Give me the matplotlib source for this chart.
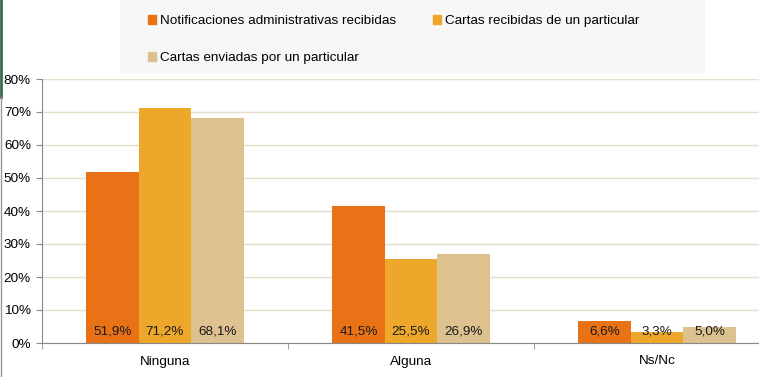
import matplotlib.pyplot as plt
from matplotlib.lines import Line2D
from matplotlib.patches import Rectangle
import numpy as np

plt.rcParams['font.family'] = ['Liberation Sans', 'DejaVu Sans']

# Data
categories = ["Ninguna", "Alguna", "Ns/Nc"]
series_names = ["Notificaciones administrativas recibidas",
                "Cartas recibidas de un particular",
                "Cartas enviadas por un particular"]
notificaciones = [51.9, 41.5, 6.6]
cartas_recibidas = [71.2, 25.5, 3.3]
cartas_enviadas = [68.1, 26.9, 5.0]
yticks = [0, 10, 20, 30, 40, 50, 60, 70, 80]

colors = ["#E97217", "#EDA72A", "#DDC18F"]
series = [notificaciones, cartas_recibidas, cartas_enviadas]

W, H = 759, 377
fig = plt.figure(figsize=(W / 100, H / 100), dpi=100)

# axes extend past the right edge like in the original crop
ax = fig.add_axes([42 / W, 34 / H, 738 / W, 264 / H])

x = np.arange(len(categories))
bw = 0.213
for i, (vals, col) in enumerate(zip(series, colors)):
    pos = x + (i - 1) * bw
    ax.bar(pos, vals, width=bw, color=col, zorder=2, label=series_names[i])
    for xp, v in zip(pos, vals):
        ax.text(xp, 1.6, f"{v:.1f}%".replace(".", ","), ha="center", va="bottom",
                fontsize=9.7, color="#1a1a1a", zorder=3)

ax.set_xlim(-0.5, 2.5)
ax.set_ylim(0, 80)
ax.set_yticks(yticks)
ax.set_yticklabels([f"{t}%" for t in yticks], fontsize=9.7)
ax.yaxis.grid(True, color="#E3DFCC", linewidth=1, zorder=0)
ax.set_axisbelow(True)

# category ticks sit between groups
ax.set_xticks(x)
ax.set_xticklabels(categories, fontsize=9.7)
ax.tick_params(axis="x", length=0, pad=9)
ax.set_xticks([-0.5, 0.5, 1.5], minor=True)
ax.tick_params(axis="x", which="minor", length=4, color="#888888", direction="out")
ax.tick_params(axis="y", length=4, color="#888888", pad=4)

for s in ["top", "right"]:
    ax.spines[s].set_visible(False)
ax.spines["left"].set_color("#888888")
ax.spines["bottom"].set_color("#888888")

# legend panel
fig.patches.append(Rectangle((120 / W, 1 - 73 / H), 585 / W, 73 / H,
                             transform=fig.transFigure, facecolor="#F7F7F7",
                             edgecolor="none", zorder=0))
handles = [Rectangle((0, 0), 1, 1, color=c) for c in colors]
order = [0, 2, 1]
fig.legend([handles[i] for i in order], [series_names[i] for i in order],
           ncol=2, loc="upper left", bbox_to_anchor=(136 / W, 1 - 3 / H),
           frameon=False, fontsize=9.7, handlelength=0.6, handleheight=0.6,
           handletextpad=0.3, columnspacing=2.7, labelspacing=1.85)

# left border of the original screenshot
fig.add_artist(Line2D([1 / W, 1 / W], [1 - 97 / H, 1], color="#3A6B4F", lw=2,
                      transform=fig.transFigure))
fig.add_artist(Line2D([1 / W, 1 / W], [0, 1 - 97 / H], color="#999999", lw=1,
                      transform=fig.transFigure))

fig.savefig("out.png", dpi=100)
